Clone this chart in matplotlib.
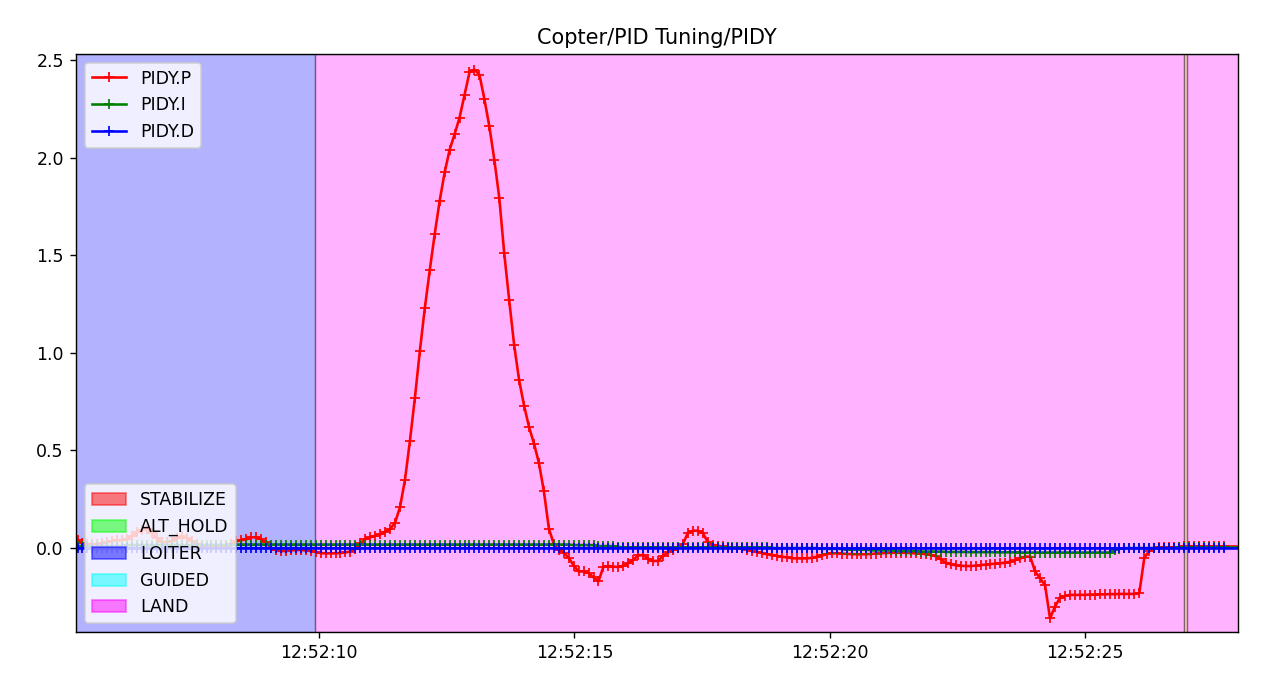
import matplotlib
matplotlib.use('Agg')
import matplotlib.pyplot as plt
import matplotlib.dates as mdates
import matplotlib.patches as mpatches
from datetime import datetime, timedelta

# ---------------- data ----------------
title = "Copter/PID Tuning/PIDY"

# seconds after 12:52:00 of the first sample and sample interval
t_first = 5.274
t_step = 0.09712
t_after = 28.3  # one more logged sample, past the right edge of the view

P = [
    0.04, 0.025, 0.02, 0.02, 0.02, 0.025, 0.03, 0.035, 0.04, 0.04,
    0.045, 0.06, 0.08, 0.095, 0.10, 0.075, 0.05, 0.03, 0.03, 0.035,
    0.05, 0.06, 0.05, 0.035, 0.02, 0.01, 0.005, 0.005, 0.005, 0.005,
    0.01, 0.02, 0.035, 0.04, 0.045, 0.055, 0.055, 0.045, 0.03, 0.0,
    -0.01, -0.015, -0.015, -0.012, -0.01, -0.01, -0.012, -0.015, -0.02, -0.026,
    -0.027, -0.027, -0.027, -0.025, -0.022, -0.018, -0.005, 0.025, 0.045, 0.056,
    0.063, 0.07, 0.083, 0.097, 0.13, 0.21, 0.35, 0.55, 0.77, 1.01,
    1.23, 1.425, 1.61, 1.78, 1.925, 2.04, 2.12, 2.205, 2.32, 2.437,
    2.45, 2.425, 2.30, 2.16, 1.99, 1.795, 1.51, 1.27, 1.04, 0.86,
    0.73, 0.62, 0.535, 0.435, 0.29, 0.10, 0.02, -0.01, -0.025, -0.05,
    -0.09, -0.12, -0.12, -0.128, -0.15, -0.17, -0.096, -0.093, -0.095, -0.097,
    -0.09, -0.078, -0.06, -0.038, -0.036, -0.055, -0.066, -0.066, -0.04, -0.022,
    -0.008, 0.002, 0.02, 0.077, 0.089, 0.089, 0.078, 0.032, 0.016, 0.012,
    0.008, 0.003, 0.0, 0.0, -0.002, -0.008, -0.015, -0.021, -0.026, -0.032,
    -0.037, -0.04, -0.044, -0.048, -0.052, -0.053, -0.053, -0.053, -0.05, -0.044,
    -0.038, -0.031, -0.027, -0.027, -0.028, -0.03, -0.031, -0.032, -0.032, -0.032,
    -0.03, -0.028, -0.027, -0.025, -0.024, -0.024, -0.024, -0.024, -0.026, -0.027,
    -0.028, -0.032, -0.035, -0.042, -0.058, -0.075, -0.084, -0.088, -0.091, -0.092,
    -0.092, -0.09, -0.087, -0.085, -0.082, -0.08, -0.078, -0.074, -0.07, -0.062,
    -0.053, -0.044, -0.044, -0.12, -0.155, -0.19, -0.36, -0.30, -0.255, -0.245,
    -0.24, -0.24, -0.24, -0.24, -0.238, -0.238, -0.237, -0.237, -0.236, -0.236,
    -0.235, -0.235, -0.235, -0.235, -0.23, -0.05, -0.015, 0.0, 0.003, 0.003,
    0.003, 0.003, 0.005, 0.008, 0.008, 0.008, 0.008, 0.008, 0.008, 0.008,
    0.008, 0.008,
    0.008,
]

I = [
    0.01, 0.01, 0.01, 0.01, 0.01, 0.01, 0.01, 0.01, 0.01, 0.01,
    0.015, 0.015, 0.015, 0.015, 0.015, 0.015, 0.015, 0.015, 0.015, 0.015,
    0.015, 0.015, 0.015, 0.015, 0.015, 0.015, 0.015, 0.015, 0.015, 0.015,
    0.015, 0.015, 0.018, 0.018, 0.018, 0.018, 0.018, 0.018, 0.018, 0.018,
    0.018, 0.018, 0.018, 0.018, 0.018, 0.018, 0.018, 0.018, 0.018, 0.018,
    0.018, 0.018, 0.018, 0.018, 0.018, 0.018, 0.018, 0.018, 0.018, 0.018,
    0.018, 0.018, 0.018, 0.018, 0.018, 0.018, 0.018, 0.018, 0.018, 0.018,
    0.018, 0.018, 0.018, 0.018, 0.018, 0.018, 0.018, 0.018, 0.018, 0.018,
    0.018, 0.018, 0.018, 0.018, 0.018, 0.018, 0.018, 0.018, 0.018, 0.018,
    0.018, 0.018, 0.018, 0.018, 0.018, 0.018, 0.018, 0.018, 0.018, 0.018,
    0.015, 0.015, 0.015, 0.015, 0.015, 0.01, 0.01, 0.01, 0.01, 0.006,
    0.003, 0.003, 0.003, 0.003, 0.003, 0.003, 0.003, 0.003, 0.003, 0.003,
    0.003, 0.003, 0.003, 0.003, 0.003, 0.003, 0.003, 0.003, 0.003, 0.003,
    0.003, 0.003, 0.003, 0.003, 0.003, 0.003, 0.003, 0.003, 0.003, 0.003,
    0.0, 0.0, 0.0, 0.0, 0.0, 0.0, 0.0, 0.0, 0.0, 0.0,
    -0.004, -0.004, -0.004, -0.004, -0.004, -0.008, -0.008, -0.008, -0.008, -0.008,
    -0.012, -0.012, -0.012, -0.012, -0.012, -0.015, -0.015, -0.015, -0.015, -0.015,
    -0.018, -0.018, -0.018, -0.018, -0.018, -0.02, -0.02, -0.02, -0.02, -0.02,
    -0.021, -0.021, -0.021, -0.021, -0.021, -0.022, -0.022, -0.022, -0.022, -0.022,
    -0.023, -0.023, -0.023, -0.023, -0.023, -0.023, -0.023, -0.023, -0.023, -0.023,
    -0.023, -0.023, -0.023, -0.023, -0.023, -0.023, -0.023, -0.023, -0.023, -0.012,
    -0.003, 0.0, 0.0, 0.0, 0.0, 0.0, 0.0, 0.0, 0.0, 0.0,
    0.0, 0.0, 0.003, 0.003, 0.003, 0.003, 0.003, 0.003, 0.003, 0.003,
    0.003, 0.003,
    0.003,
]

D = [
    0.0, 0.0, 0.0, 0.0, 0.0, 0.0, 0.0, 0.0, 0.0, 0.0,
    0.0, 0.0, 0.0, 0.0, 0.0, 0.0, 0.0, 0.0, 0.0, 0.0,
    0.0, 0.0, 0.0, 0.0, 0.0, 0.0, 0.0, 0.0, 0.0, 0.0,
    0.0, 0.0, 0.0, 0.0, 0.0, 0.0, 0.0, 0.0, 0.0, 0.0,
    0.0, 0.0, 0.0, 0.0, 0.0, 0.0, 0.0, 0.0, 0.0, 0.0,
    0.0, 0.0, 0.0, 0.0, 0.0, 0.0, 0.0, 0.0, 0.0, 0.0,
    0.0, 0.0, 0.0, 0.0, 0.0, 0.0, 0.0, 0.0, 0.0, 0.0,
    0.0, 0.0, 0.0, 0.0, 0.0, 0.0, 0.0, 0.0, 0.0, 0.0,
    0.0, 0.0, 0.0, 0.0, 0.0, 0.0, 0.0, 0.0, 0.0, 0.0,
    0.0, 0.0, 0.0, 0.0, 0.0, 0.0, 0.0, 0.0, 0.0, 0.0,
    0.0, 0.0, 0.0, 0.0, 0.0, 0.0, 0.0, 0.0, 0.0, 0.0,
    0.0, 0.0, 0.0, 0.0, 0.0, 0.0, 0.0, 0.0, 0.0, 0.0,
    0.0, 0.0, 0.0, 0.0, 0.0, 0.0, 0.0, 0.0, 0.0, 0.0,
    0.0, 0.0, 0.0, 0.0, 0.0, 0.0, 0.0, 0.0, 0.0, 0.0,
    0.0, 0.0, 0.0, 0.0, 0.0, 0.0, 0.0, 0.0, 0.0, 0.0,
    0.0, 0.0, 0.0, 0.0, 0.0, 0.0, 0.0, 0.0, 0.0, 0.0,
    0.0, 0.0, 0.0, 0.0, 0.0, 0.0, 0.0, 0.0, 0.0, 0.0,
    0.0, 0.0, 0.0, 0.0, 0.0, 0.0, 0.0, 0.0, 0.0, 0.0,
    0.0, 0.0, 0.0, 0.0, 0.0, 0.0, 0.0, 0.0, 0.0, 0.0,
    0.0, 0.0, 0.0, 0.0, 0.0, 0.0, 0.0, 0.0, 0.0, 0.0,
    0.0, 0.0, 0.0, 0.0, 0.0, 0.0, 0.0, 0.0, 0.0, 0.0,
    0.0, 0.0, 0.0, 0.0, 0.0, 0.0, 0.0, 0.0, 0.0, 0.0,
    0.0, 0.0, 0.0, 0.0, 0.0, 0.0, 0.0, 0.0, 0.0, 0.0,
    0.0, 0.0,
    0.0,
]

series_names = ["PIDY.P", "PIDY.I", "PIDY.D"]
series_colors = ["red", "green", "blue"]

mode_names = ["STABILIZE", "ALT_HOLD", "LOITER", "GUIDED", "LAND"]
mode_colors = ["red", "lime", "blue", "cyan", "magenta"]

# flight-mode segments (seconds after 12:52:00)
segment_modes = ["LOITER", "LAND", "OTHER", "LAND"]
segment_starts = [0.0, 9.925, 26.93, 26.99]
segment_ends = [9.925, 26.93, 26.99, 40.0]
other_color = "#ff6030"

view_start = 5.245
view_end = 27.99
y_low, y_high = -0.43, 2.531

# ---------------- plot ----------------
base = datetime(2024, 1, 1, 12, 52, 0)
n = len(P) - 1
secs = [t_first + t_step * i for i in range(n)] + [t_after]
times = [base + timedelta(seconds=s) for s in secs]

fig = plt.figure(figsize=(10.12, 5.392), dpi=125)
ax = fig.add_axes([0.0601, 0.0623, 0.9186, 0.8577])

color_of = dict(zip(mode_names, mode_colors))
for m, s, e in zip(segment_modes, segment_starts, segment_ends):
    c = color_of.get(m, other_color)
    ax.axvspan(base + timedelta(seconds=s), base + timedelta(seconds=e),
               facecolor=c, edgecolor="black", linewidth=0.8, alpha=0.3)

for vals, name, col in zip([P, I, D], series_names, series_colors):
    ax.plot(times, vals, "-", marker="+", color=col, label=name)

ax.set_xlim(base + timedelta(seconds=view_start), base + timedelta(seconds=view_end))
ax.set_ylim(y_low, y_high)
ax.xaxis.set_major_locator(mdates.SecondLocator(bysecond=range(0, 60, 5)))
ax.xaxis.set_major_formatter(mdates.DateFormatter("%H:%M:%S"))
ax.set_title(title)

leg1 = ax.legend(loc="upper left")
ax.add_artist(leg1)
handles = [mpatches.Patch(color=c, alpha=0.5, label=nm) for nm, c in zip(mode_names, mode_colors)]
ax.legend(handles=handles, loc="lower left")

fig.savefig("out.png", dpi=125)
